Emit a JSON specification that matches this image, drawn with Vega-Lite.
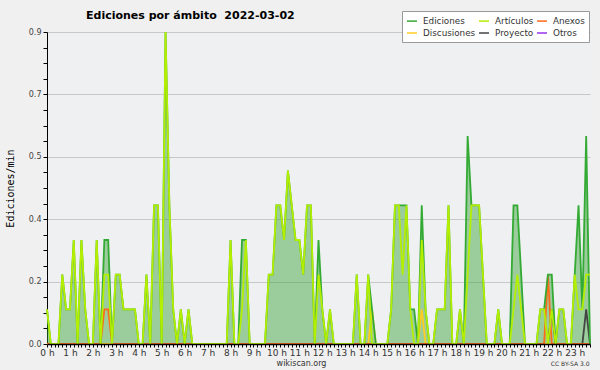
{
"$schema": "https://vega.github.io/schema/vega-lite/v6.json",
"width": 543, "height": 312,
"autosize": {"type": "none"},
"padding": {"left": 47, "top": 32, "right": 10, "bottom": 26},
"background": "#f0f0f0",
"config": {"view": {"fill": "#eef0f2", "stroke": null}, "font": "DejaVu Sans"},
"title": {"text": "Ediciones por ámbito \u00a02022-03-02", "anchor": "start", "frame": "group", "dx": 39, "fontSize": 11, "font": "DejaVu Sans", "fontWeight": "bold", "color": "#000", "offset": -10},
"data": {"values": [
{"m":0,"Ediciones":0.1,"Artículos":0.1,"Anexos":0,"Discusiones":0,"Proyecto":0,"Otros":0},
{"m":10,"Ediciones":0,"Artículos":0,"Anexos":0,"Discusiones":0,"Proyecto":0,"Otros":0},
{"m":20,"Ediciones":0,"Artículos":0,"Anexos":0,"Discusiones":0,"Proyecto":0,"Otros":0},
{"m":30,"Ediciones":0,"Artículos":0,"Anexos":0,"Discusiones":0,"Proyecto":0,"Otros":0},
{"m":40,"Ediciones":0.2,"Artículos":0.2,"Anexos":0,"Discusiones":0,"Proyecto":0,"Otros":0},
{"m":50,"Ediciones":0.1,"Artículos":0.1,"Anexos":0,"Discusiones":0,"Proyecto":0,"Otros":0},
{"m":60,"Ediciones":0.1,"Artículos":0.1,"Anexos":0,"Discusiones":0,"Proyecto":0,"Otros":0},
{"m":70,"Ediciones":0.3,"Artículos":0.3,"Anexos":0,"Discusiones":0,"Proyecto":0,"Otros":0},
{"m":80,"Ediciones":0,"Artículos":0,"Anexos":0,"Discusiones":0,"Proyecto":0,"Otros":0},
{"m":90,"Ediciones":0.3,"Artículos":0.3,"Anexos":0,"Discusiones":0,"Proyecto":0,"Otros":0},
{"m":100,"Ediciones":0.1,"Artículos":0.1,"Anexos":0,"Discusiones":0,"Proyecto":0,"Otros":0},
{"m":110,"Ediciones":0,"Artículos":0,"Anexos":0,"Discusiones":0,"Proyecto":0,"Otros":0},
{"m":120,"Ediciones":0,"Artículos":0,"Anexos":0,"Discusiones":0,"Proyecto":0,"Otros":0},
{"m":130,"Ediciones":0.3,"Artículos":0.3,"Anexos":0,"Discusiones":0,"Proyecto":0,"Otros":0},
{"m":140,"Ediciones":0,"Artículos":0,"Anexos":0,"Discusiones":0,"Proyecto":0,"Otros":0},
{"m":150,"Ediciones":0.3,"Artículos":0.2,"Anexos":0.1,"Discusiones":0,"Proyecto":0,"Otros":0},
{"m":160,"Ediciones":0.3,"Artículos":0.2,"Anexos":0.1,"Discusiones":0,"Proyecto":0,"Otros":0},
{"m":170,"Ediciones":0,"Artículos":0,"Anexos":0,"Discusiones":0,"Proyecto":0,"Otros":0},
{"m":180,"Ediciones":0.2,"Artículos":0.2,"Anexos":0,"Discusiones":0,"Proyecto":0,"Otros":0},
{"m":190,"Ediciones":0.2,"Artículos":0.2,"Anexos":0,"Discusiones":0,"Proyecto":0,"Otros":0},
{"m":200,"Ediciones":0.1,"Artículos":0.1,"Anexos":0,"Discusiones":0,"Proyecto":0,"Otros":0},
{"m":210,"Ediciones":0.1,"Artículos":0.1,"Anexos":0,"Discusiones":0,"Proyecto":0,"Otros":0},
{"m":220,"Ediciones":0.1,"Artículos":0.1,"Anexos":0,"Discusiones":0,"Proyecto":0,"Otros":0},
{"m":230,"Ediciones":0.1,"Artículos":0.1,"Anexos":0,"Discusiones":0,"Proyecto":0,"Otros":0},
{"m":240,"Ediciones":0,"Artículos":0,"Anexos":0,"Discusiones":0,"Proyecto":0,"Otros":0},
{"m":250,"Ediciones":0,"Artículos":0,"Anexos":0,"Discusiones":0,"Proyecto":0,"Otros":0},
{"m":260,"Ediciones":0.2,"Artículos":0.2,"Anexos":0,"Discusiones":0,"Proyecto":0,"Otros":0},
{"m":270,"Ediciones":0,"Artículos":0,"Anexos":0,"Discusiones":0,"Proyecto":0,"Otros":0},
{"m":280,"Ediciones":0.4,"Artículos":0.4,"Anexos":0,"Discusiones":0,"Proyecto":0,"Otros":0},
{"m":290,"Ediciones":0.4,"Artículos":0.4,"Anexos":0,"Discusiones":0,"Proyecto":0,"Otros":0},
{"m":300,"Ediciones":0,"Artículos":0,"Anexos":0,"Discusiones":0,"Proyecto":0,"Otros":0},
{"m":310,"Ediciones":0.9,"Artículos":0.9,"Anexos":0,"Discusiones":0,"Proyecto":0,"Otros":0},
{"m":320,"Ediciones":0.4,"Artículos":0.4,"Anexos":0,"Discusiones":0,"Proyecto":0,"Otros":0},
{"m":330,"Ediciones":0.1,"Artículos":0.1,"Anexos":0,"Discusiones":0,"Proyecto":0,"Otros":0},
{"m":340,"Ediciones":0,"Artículos":0,"Anexos":0,"Discusiones":0,"Proyecto":0,"Otros":0},
{"m":350,"Ediciones":0.1,"Artículos":0.1,"Anexos":0,"Discusiones":0,"Proyecto":0,"Otros":0},
{"m":360,"Ediciones":0,"Artículos":0,"Anexos":0,"Discusiones":0,"Proyecto":0,"Otros":0},
{"m":370,"Ediciones":0.1,"Artículos":0.1,"Anexos":0,"Discusiones":0,"Proyecto":0,"Otros":0},
{"m":380,"Ediciones":0,"Artículos":0,"Anexos":0,"Discusiones":0,"Proyecto":0,"Otros":0},
{"m":390,"Ediciones":0,"Artículos":0,"Anexos":0,"Discusiones":0,"Proyecto":0,"Otros":0},
{"m":400,"Ediciones":0,"Artículos":0,"Anexos":0,"Discusiones":0,"Proyecto":0,"Otros":0},
{"m":410,"Ediciones":0,"Artículos":0,"Anexos":0,"Discusiones":0,"Proyecto":0,"Otros":0},
{"m":420,"Ediciones":0,"Artículos":0,"Anexos":0,"Discusiones":0,"Proyecto":0,"Otros":0},
{"m":430,"Ediciones":0,"Artículos":0,"Anexos":0,"Discusiones":0,"Proyecto":0,"Otros":0},
{"m":440,"Ediciones":0,"Artículos":0,"Anexos":0,"Discusiones":0,"Proyecto":0,"Otros":0},
{"m":450,"Ediciones":0,"Artículos":0,"Anexos":0,"Discusiones":0,"Proyecto":0,"Otros":0},
{"m":460,"Ediciones":0,"Artículos":0,"Anexos":0,"Discusiones":0,"Proyecto":0,"Otros":0},
{"m":470,"Ediciones":0,"Artículos":0,"Anexos":0,"Discusiones":0,"Proyecto":0,"Otros":0},
{"m":480,"Ediciones":0.3,"Artículos":0.3,"Anexos":0,"Discusiones":0,"Proyecto":0,"Otros":0},
{"m":490,"Ediciones":0,"Artículos":0,"Anexos":0,"Discusiones":0,"Proyecto":0,"Otros":0},
{"m":500,"Ediciones":0,"Artículos":0,"Anexos":0,"Discusiones":0,"Proyecto":0,"Otros":0},
{"m":510,"Ediciones":0.3,"Artículos":0.1,"Anexos":0,"Discusiones":0,"Proyecto":0,"Otros":0},
{"m":520,"Ediciones":0.3,"Artículos":0.3,"Anexos":0,"Discusiones":0,"Proyecto":0,"Otros":0},
{"m":530,"Ediciones":0,"Artículos":0,"Anexos":0,"Discusiones":0,"Proyecto":0,"Otros":0},
{"m":540,"Ediciones":0,"Artículos":0,"Anexos":0,"Discusiones":0,"Proyecto":0,"Otros":0},
{"m":550,"Ediciones":0,"Artículos":0,"Anexos":0,"Discusiones":0,"Proyecto":0,"Otros":0},
{"m":560,"Ediciones":0,"Artículos":0,"Anexos":0,"Discusiones":0,"Proyecto":0,"Otros":0},
{"m":570,"Ediciones":0,"Artículos":0,"Anexos":0,"Discusiones":0,"Proyecto":0,"Otros":0},
{"m":580,"Ediciones":0.2,"Artículos":0.2,"Anexos":0,"Discusiones":0,"Proyecto":0,"Otros":0},
{"m":590,"Ediciones":0.2,"Artículos":0.2,"Anexos":0,"Discusiones":0,"Proyecto":0,"Otros":0},
{"m":600,"Ediciones":0.4,"Artículos":0.4,"Anexos":0,"Discusiones":0,"Proyecto":0,"Otros":0},
{"m":610,"Ediciones":0.4,"Artículos":0.4,"Anexos":0,"Discusiones":0,"Proyecto":0,"Otros":0},
{"m":620,"Ediciones":0.3,"Artículos":0.3,"Anexos":0,"Discusiones":0,"Proyecto":0,"Otros":0},
{"m":630,"Ediciones":0.5,"Artículos":0.5,"Anexos":0,"Discusiones":0,"Proyecto":0,"Otros":0},
{"m":640,"Ediciones":0.4,"Artículos":0.4,"Anexos":0,"Discusiones":0,"Proyecto":0,"Otros":0},
{"m":650,"Ediciones":0.3,"Artículos":0.3,"Anexos":0,"Discusiones":0,"Proyecto":0,"Otros":0},
{"m":660,"Ediciones":0.3,"Artículos":0.3,"Anexos":0,"Discusiones":0,"Proyecto":0,"Otros":0},
{"m":670,"Ediciones":0.2,"Artículos":0.2,"Anexos":0,"Discusiones":0,"Proyecto":0,"Otros":0},
{"m":680,"Ediciones":0.4,"Artículos":0.4,"Anexos":0,"Discusiones":0,"Proyecto":0,"Otros":0},
{"m":690,"Ediciones":0.4,"Artículos":0.4,"Anexos":0,"Discusiones":0,"Proyecto":0,"Otros":0},
{"m":700,"Ediciones":0,"Artículos":0,"Anexos":0,"Discusiones":0,"Proyecto":0,"Otros":0},
{"m":710,"Ediciones":0.3,"Artículos":0.2,"Anexos":0,"Discusiones":0,"Proyecto":0,"Otros":0},
{"m":720,"Ediciones":0.1,"Artículos":0.1,"Anexos":0,"Discusiones":0,"Proyecto":0,"Otros":0},
{"m":730,"Ediciones":0,"Artículos":0,"Anexos":0,"Discusiones":0,"Proyecto":0,"Otros":0},
{"m":740,"Ediciones":0.1,"Artículos":0.1,"Anexos":0,"Discusiones":0,"Proyecto":0,"Otros":0},
{"m":750,"Ediciones":0,"Artículos":0,"Anexos":0,"Discusiones":0,"Proyecto":0,"Otros":0},
{"m":760,"Ediciones":0,"Artículos":0,"Anexos":0,"Discusiones":0,"Proyecto":0,"Otros":0},
{"m":770,"Ediciones":0,"Artículos":0,"Anexos":0,"Discusiones":0,"Proyecto":0,"Otros":0},
{"m":780,"Ediciones":0,"Artículos":0,"Anexos":0,"Discusiones":0,"Proyecto":0,"Otros":0},
{"m":790,"Ediciones":0,"Artículos":0,"Anexos":0,"Discusiones":0,"Proyecto":0,"Otros":0},
{"m":800,"Ediciones":0,"Artículos":0,"Anexos":0,"Discusiones":0,"Proyecto":0,"Otros":0},
{"m":810,"Ediciones":0.2,"Artículos":0.2,"Anexos":0,"Discusiones":0,"Proyecto":0,"Otros":0},
{"m":820,"Ediciones":0,"Artículos":0,"Anexos":0,"Discusiones":0,"Proyecto":0,"Otros":0},
{"m":830,"Ediciones":0,"Artículos":0,"Anexos":0,"Discusiones":0,"Proyecto":0,"Otros":0},
{"m":840,"Ediciones":0.2,"Artículos":0.2,"Anexos":0,"Discusiones":0,"Proyecto":0,"Otros":0},
{"m":850,"Ediciones":0.1,"Artículos":0,"Anexos":0,"Discusiones":0.1,"Proyecto":0,"Otros":0},
{"m":860,"Ediciones":0,"Artículos":0,"Anexos":0,"Discusiones":0,"Proyecto":0,"Otros":0},
{"m":870,"Ediciones":0,"Artículos":0,"Anexos":0,"Discusiones":0,"Proyecto":0,"Otros":0},
{"m":880,"Ediciones":0,"Artículos":0,"Anexos":0,"Discusiones":0,"Proyecto":0,"Otros":0},
{"m":890,"Ediciones":0,"Artículos":0,"Anexos":0,"Discusiones":0,"Proyecto":0,"Otros":0},
{"m":900,"Ediciones":0.1,"Artículos":0.1,"Anexos":0,"Discusiones":0,"Proyecto":0,"Otros":0},
{"m":910,"Ediciones":0.4,"Artículos":0.4,"Anexos":0,"Discusiones":0,"Proyecto":0,"Otros":0},
{"m":920,"Ediciones":0.4,"Artículos":0.4,"Anexos":0,"Discusiones":0,"Proyecto":0,"Otros":0},
{"m":930,"Ediciones":0.4,"Artículos":0.2,"Anexos":0,"Discusiones":0,"Proyecto":0,"Otros":0},
{"m":940,"Ediciones":0.4,"Artículos":0.4,"Anexos":0,"Discusiones":0,"Proyecto":0,"Otros":0},
{"m":950,"Ediciones":0.1,"Artículos":0.1,"Anexos":0,"Discusiones":0,"Proyecto":0,"Otros":0},
{"m":960,"Ediciones":0.1,"Artículos":0,"Anexos":0,"Discusiones":0,"Proyecto":0,"Otros":0},
{"m":970,"Ediciones":0,"Artículos":0,"Anexos":0,"Discusiones":0,"Proyecto":0,"Otros":0},
{"m":980,"Ediciones":0.4,"Artículos":0.3,"Anexos":0,"Discusiones":0.1,"Proyecto":0,"Otros":0},
{"m":990,"Ediciones":0.1,"Artículos":0.1,"Anexos":0,"Discusiones":0,"Proyecto":0,"Otros":0},
{"m":1000,"Ediciones":0,"Artículos":0,"Anexos":0,"Discusiones":0,"Proyecto":0,"Otros":0},
{"m":1010,"Ediciones":0,"Artículos":0,"Anexos":0,"Discusiones":0,"Proyecto":0,"Otros":0},
{"m":1020,"Ediciones":0.1,"Artículos":0.1,"Anexos":0,"Discusiones":0,"Proyecto":0,"Otros":0},
{"m":1030,"Ediciones":0.1,"Artículos":0.1,"Anexos":0,"Discusiones":0,"Proyecto":0,"Otros":0},
{"m":1040,"Ediciones":0.1,"Artículos":0.1,"Anexos":0,"Discusiones":0,"Proyecto":0,"Otros":0},
{"m":1050,"Ediciones":0.4,"Artículos":0.4,"Anexos":0,"Discusiones":0,"Proyecto":0,"Otros":0},
{"m":1060,"Ediciones":0,"Artículos":0,"Anexos":0,"Discusiones":0,"Proyecto":0,"Otros":0},
{"m":1070,"Ediciones":0,"Artículos":0,"Anexos":0,"Discusiones":0,"Proyecto":0,"Otros":0},
{"m":1080,"Ediciones":0.1,"Artículos":0.1,"Anexos":0,"Discusiones":0,"Proyecto":0,"Otros":0},
{"m":1090,"Ediciones":0,"Artículos":0,"Anexos":0,"Discusiones":0,"Proyecto":0,"Otros":0},
{"m":1100,"Ediciones":0.6,"Artículos":0.2,"Anexos":0,"Discusiones":0,"Proyecto":0,"Otros":0},
{"m":1110,"Ediciones":0.4,"Artículos":0.4,"Anexos":0,"Discusiones":0,"Proyecto":0,"Otros":0},
{"m":1120,"Ediciones":0.4,"Artículos":0.4,"Anexos":0,"Discusiones":0,"Proyecto":0,"Otros":0},
{"m":1130,"Ediciones":0.4,"Artículos":0.4,"Anexos":0,"Discusiones":0,"Proyecto":0,"Otros":0},
{"m":1140,"Ediciones":0.2,"Artículos":0.2,"Anexos":0,"Discusiones":0,"Proyecto":0,"Otros":0},
{"m":1150,"Ediciones":0,"Artículos":0,"Anexos":0,"Discusiones":0,"Proyecto":0,"Otros":0},
{"m":1160,"Ediciones":0,"Artículos":0,"Anexos":0,"Discusiones":0,"Proyecto":0,"Otros":0},
{"m":1170,"Ediciones":0,"Artículos":0,"Anexos":0,"Discusiones":0,"Proyecto":0,"Otros":0},
{"m":1180,"Ediciones":0.1,"Artículos":0.1,"Anexos":0,"Discusiones":0,"Proyecto":0,"Otros":0},
{"m":1190,"Ediciones":0,"Artículos":0,"Anexos":0,"Discusiones":0,"Proyecto":0,"Otros":0},
{"m":1200,"Ediciones":0,"Artículos":0,"Anexos":0,"Discusiones":0,"Proyecto":0,"Otros":0},
{"m":1210,"Ediciones":0,"Artículos":0,"Anexos":0,"Discusiones":0,"Proyecto":0,"Otros":0},
{"m":1220,"Ediciones":0.4,"Artículos":0.1,"Anexos":0,"Discusiones":0,"Proyecto":0,"Otros":0},
{"m":1230,"Ediciones":0.4,"Artículos":0.2,"Anexos":0,"Discusiones":0,"Proyecto":0,"Otros":0},
{"m":1240,"Ediciones":0.2,"Artículos":0.1,"Anexos":0,"Discusiones":0,"Proyecto":0,"Otros":0},
{"m":1250,"Ediciones":0,"Artículos":0,"Anexos":0,"Discusiones":0,"Proyecto":0,"Otros":0},
{"m":1260,"Ediciones":0,"Artículos":0,"Anexos":0,"Discusiones":0,"Proyecto":0,"Otros":0},
{"m":1270,"Ediciones":0,"Artículos":0,"Anexos":0,"Discusiones":0,"Proyecto":0,"Otros":0},
{"m":1280,"Ediciones":0,"Artículos":0,"Anexos":0,"Discusiones":0,"Proyecto":0,"Otros":0},
{"m":1290,"Ediciones":0.1,"Artículos":0.1,"Anexos":0,"Discusiones":0,"Proyecto":0,"Otros":0},
{"m":1300,"Ediciones":0.1,"Artículos":0.1,"Anexos":0,"Discusiones":0,"Proyecto":0,"Otros":0},
{"m":1310,"Ediciones":0.2,"Artículos":0,"Anexos":0.2,"Discusiones":0,"Proyecto":0,"Otros":0},
{"m":1320,"Ediciones":0.2,"Artículos":0.1,"Anexos":0,"Discusiones":0,"Proyecto":0.1,"Otros":0},
{"m":1330,"Ediciones":0,"Artículos":0,"Anexos":0,"Discusiones":0,"Proyecto":0,"Otros":0},
{"m":1340,"Ediciones":0.1,"Artículos":0.1,"Anexos":0,"Discusiones":0,"Proyecto":0,"Otros":0},
{"m":1350,"Ediciones":0.1,"Artículos":0.1,"Anexos":0,"Discusiones":0,"Proyecto":0,"Otros":0},
{"m":1360,"Ediciones":0,"Artículos":0,"Anexos":0,"Discusiones":0,"Proyecto":0,"Otros":0},
{"m":1370,"Ediciones":0,"Artículos":0,"Anexos":0,"Discusiones":0,"Proyecto":0,"Otros":0},
{"m":1380,"Ediciones":0.2,"Artículos":0.2,"Anexos":0,"Discusiones":0,"Proyecto":0,"Otros":0},
{"m":1390,"Ediciones":0.4,"Artículos":0.1,"Anexos":0,"Discusiones":0,"Proyecto":0,"Otros":0},
{"m":1400,"Ediciones":0.1,"Artículos":0.1,"Anexos":0,"Discusiones":0,"Proyecto":0,"Otros":0},
{"m":1410,"Ediciones":0.6,"Artículos":0.2,"Anexos":0,"Discusiones":0,"Proyecto":0.1,"Otros":0},
{"m":1420,"Ediciones":0,"Artículos":0.2,"Anexos":0,"Discusiones":0,"Proyecto":0,"Otros":0}
]},
"layer": [
{"mark": {"type": "area", "color": "#33a033", "opacity": 0.45},
 "encoding": {
  "x": {"field": "m", "type": "quantitative", "scale": {"domain": [0, 1420], "nice": false, "zero": false},
   "axis": {"orient": "bottom", "values": [0,10,20,30,40,50,60,70,80,90,100,110,120,130,140,150,160,170,180,190,200,210,220,230,240,250,260,270,280,290,300,310,320,330,340,350,360,370,380,390,400,410,420,430,440,450,460,470,480,490,500,510,520,530,540,550,560,570,580,590,600,610,620,630,640,650,660,670,680,690,700,710,720,730,740,750,760,770,780,790,800,810,820,830,840,850,860,870,880,890,900,910,920,930,940,950,960,970,980,990,1000,1010,1020,1030,1040,1050,1060,1070,1080,1090,1100,1110,1120,1130,1140,1150,1160,1170,1180,1190,1200,1210,1220,1230,1240,1250,1260,1270,1280,1290,1300,1310,1320,1330,1340,1350,1360,1370,1380,1390,1400,1410,1420],
    "labelExpr": "datum.value % 60 == 0 ? (datum.value / 60) + ' h' : ''",
    "labelOverlap": false, "labelBound": false, "labelFlush": false,
    "labelFontSize": 9, "labelColor": "#333", "labelPadding": 1,
    "tickSize": 3, "tickColor": "#000", "domainColor": "#000", "domainWidth": 1.5, "grid": false, "zindex": 1,
    "title": "wikiscan.org", "titleX": 254, "titleY": 21, "titleAlign": "center", "titleBaseline": "alphabetic",
    "titleFontSize": 8, "titleFontWeight": "normal", "titleColor": "#333"}},
  "y": {"field": "Ediciones", "type": "quantitative", "scale": {"domain": [0, 0.9], "nice": false},
   "axis": {"values": [0,0.045,0.09,0.135,0.18,0.225,0.27,0.315,0.36,0.405,0.45,0.495,0.54,0.585,0.63,0.675,0.72,0.765,0.81,0.855,0.9],
    "labelExpr": "round(datum.value / 0.045) % 4 == 0 ? format(datum.value, '.1f') : ''",
    "grid": true, "gridColor": "#c8c8c8",
    "gridOpacity": {"condition": {"test": "round(datum.value / 0.045) % 4 == 0", "value": 1}, "value": 0},
    "labelFontSize": 8, "labelColor": "#444", "labelPadding": 2, "labelOverlap": false, "labelBound": false, "labelFlush": false,
    "tickSize": 4, "tickColor": "#000", "domainColor": "#000",
    "title": "Ediciones/min", "titleFont": "DejaVu Sans Mono", "titleFontSize": 10, "titleFontWeight": "normal", "titleColor": "#000",
    "titleX": -37, "titleY": 156, "titleAlign": "center", "titleBaseline": "middle", "titleAngle": -90}}
 }},
{"transform": [{"fold": ["Otros", "Proyecto", "Discusiones", "Anexos", "Ediciones", "Artículos"], "as": ["serie", "v"]}],
 "mark": {"type": "line", "strokeWidth": 1.8},
 "encoding": {
  "x": {"field": "m", "type": "quantitative",
   "axis": {"orient": "bottom", "labels": false, "ticks": false, "domain": false, "grid": false,
    "title": "CC BY-SA 3.0", "titleX": 542, "titleY": 21, "titleAlign": "right", "titleBaseline": "alphabetic",
    "titleFontSize": 6, "titleFontWeight": "normal", "titleColor": "#333"}},
  "y": {"field": "v", "type": "quantitative",
   "axis": {"values": [0,0.045,0.09,0.135,0.18,0.225,0.27,0.315,0.36,0.405,0.45,0.495,0.54,0.585,0.63,0.675,0.72,0.765,0.81,0.855,0.9],
    "labelExpr": "round(datum.value / 0.045) % 4 == 0 ? format(datum.value, '.1f') : ''",
    "grid": true, "gridColor": "#c8c8c8",
    "gridOpacity": {"condition": {"test": "round(datum.value / 0.045) % 4 == 0", "value": 1}, "value": 0},
    "labelFontSize": 8, "labelColor": "#444", "labelPadding": 2, "labelOverlap": false, "labelBound": false, "labelFlush": false,
    "tickSize": 4, "tickColor": "#000", "domainColor": "#000",
    "title": "Ediciones/min", "titleFont": "DejaVu Sans Mono", "titleFontSize": 10, "titleFontWeight": "normal", "titleColor": "#000",
    "titleX": -37, "titleY": 156, "titleAlign": "center", "titleBaseline": "middle", "titleAngle": -90}},
  "color": {"field": "serie", "type": "nominal",
   "scale": {"domain": ["Ediciones", "Artículos", "Anexos", "Discusiones", "Proyecto", "Otros"],
             "range": ["#33aa33", "#b4ee00", "#ff6a1a", "#ffcc22", "#444444", "#9933ee"]},
   "legend": {"orient": "none", "legendX": 355, "legendY": -21, "direction": "horizontal", "columns": 3, "title": null,
    "symbolType": "stroke", "symbolStrokeWidth": 1.5, "symbolSize": 100, "labelFontSize": 8.8, "labelColor": "#333",
    "padding": 4, "fillColor": "#ffffff", "strokeColor": "#999999", "rowPadding": 1, "columnPadding": 0, "labelOffset": 5}}
 }}
],
"resolve": {"axis": {"x": "independent"}}
}
